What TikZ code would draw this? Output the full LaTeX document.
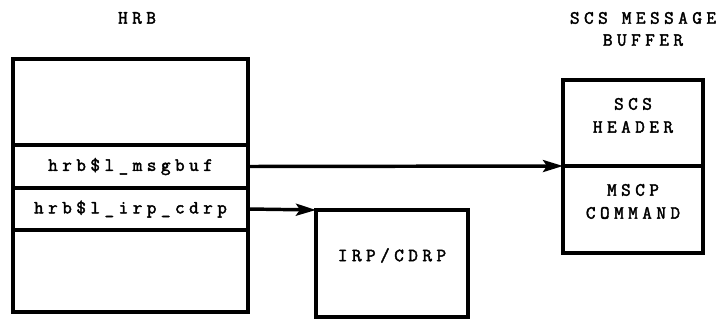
\documentclass[tikz,border=0pt]{standalone}
\usepackage{fontspec}
\setmainfont{Latin Modern Mono}[LetterSpace=24,FakeBold=2.2]
\usetikzlibrary{arrows.meta,positioning}
\tikzset{
  field/.style={draw,line width=2.8pt,outer sep=0pt,minimum width=176.25pt,inner sep=0pt},
  buffer/.style={draw,line width=2.8pt,outer sep=0pt,minimum width=105pt,inner sep=0pt},
  pointer/.style={line width=2.6pt,-{Stealth[length=15pt,width=9pt,inset=3pt]}},
}
\begin{document}
\begin{tikzpicture}[x=0.75pt,y=-0.75pt,font=\fontsize{14}{17.25}\selectfont]
  \useasboundingbox (0,0) rectangle (725,321);
  % HRB
  \node[field,minimum height=64.5pt] (hrbtop) at (130.5,102) {};
  \node[field,minimum height=32.25pt,below=0pt of hrbtop] (msgbuf) {hrb\$l\_msgbuf};
  \node[field,minimum height=31.5pt,below=0pt of msgbuf] (irpcdrp) {hrb\$l\_irp\_cdrp};
  \node[field,minimum height=61.5pt,below=0pt of irpcdrp] (hrbbottom) {};
  \node (hrbtitle) at (137,18) {HRB};
  % SCS message buffer
  \node[buffer,minimum height=64.5pt,
    label={[align=center,anchor=north,yshift=-10pt]north:SCS\\ HEADER}] (header) at (633,123) {};
  \node[buffer,minimum height=65.25pt,below=0pt of header,
    label={[align=center,anchor=north,yshift=-10pt]north:MSCP\\ COMMAND}] (command) {};
  \node[align=center,font=\fontsize{14}{16.5}\selectfont] (scstitle) at (643,29) {SCS MESSAGE\\BUFFER};
  % IRP/CDRP
  \node[draw,line width=2.8pt,outer sep=0pt,minimum width=114pt,minimum height=80.25pt,
    label={[yshift=6pt]center:IRP/CDRP}] (irp) at (392,263.5) {};
  \draw[pointer] (msgbuf.east) -- (header.south west);
  \draw[pointer] (irpcdrp.east) -- (irp.north west);
\end{tikzpicture}
\end{document}
